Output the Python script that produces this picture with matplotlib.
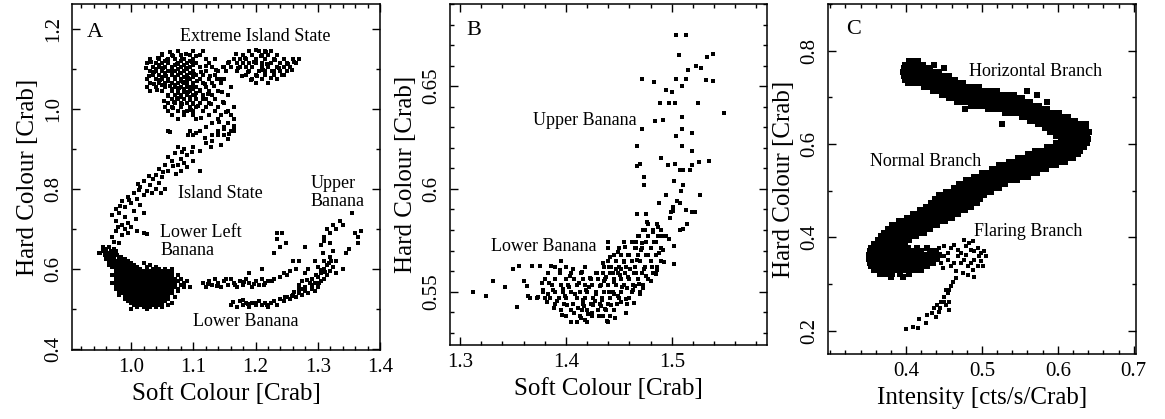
import numpy as np
import matplotlib
matplotlib.use("Agg")
import matplotlib.pyplot as plt
from matplotlib.ticker import MultipleLocator

plt.rcParams['font.family'] = ['Liberation Serif', 'DejaVu Serif']

# ---------------- Panel A : atoll source colour-colour diagram ----------------
# rows: (hard colour, [soft colours])
a_eis_left = [
    (1.145, [1.075, 1.10, 1.115]),
    (1.135, [1.05, 1.065, 1.08, 1.095, 1.11]),
    (1.125, [1.03, 1.045, 1.06, 1.07, 1.085, 1.10, 1.12, 1.135]),
    (1.12, [1.055, 1.08, 1.095]),
    (1.115, [1.025, 1.04, 1.05, 1.06, 1.075, 1.09, 1.105, 1.125]),
    (1.11, [1.045, 1.07, 1.085, 1.10]),
    (1.105, [1.035, 1.045, 1.055, 1.065, 1.08, 1.095, 1.11, 1.13, 1.15]),
    (1.10, [1.04, 1.065, 1.075, 1.09]),
    (1.095, [1.03, 1.04, 1.05, 1.06, 1.07, 1.085, 1.10, 1.12, 1.14]),
    (1.09, [1.055, 1.065, 1.08, 1.095]),
    (1.085, [1.035, 1.045, 1.055, 1.065, 1.075, 1.09, 1.105, 1.115, 1.135]),
    (1.08, [1.05, 1.07, 1.085, 1.10]),
    (1.075, [1.025, 1.04, 1.05, 1.06, 1.07, 1.08, 1.095, 1.11, 1.125, 1.15]),
    (1.07, [1.06, 1.08, 1.09]),
    (1.065, [1.03, 1.045, 1.055, 1.065, 1.075, 1.085, 1.10, 1.115, 1.13, 1.145]),
    (1.06, [1.05, 1.07, 1.09, 1.10]),
    (1.055, [1.025, 1.04, 1.055, 1.07, 1.08, 1.09, 1.105, 1.12, 1.16]),
    (1.05, [1.065, 1.085, 1.10]),
    (1.045, [1.03, 1.05, 1.065, 1.075, 1.085, 1.095, 1.11, 1.125, 1.14]),
    (1.04, [1.075, 1.09, 1.105]),
    (1.035, [1.06, 1.07, 1.08, 1.09, 1.10, 1.115, 1.13, 1.155]),
    (1.03, [1.08, 1.095]),
    (1.025, [1.065, 1.075, 1.085, 1.095, 1.105, 1.12, 1.135]),
    (1.015, [1.06, 1.07, 1.08, 1.09, 1.10, 1.11, 1.125, 1.15]),
    (1.005, [1.055, 1.065, 1.08, 1.095, 1.105, 1.12, 1.14, 1.165]),
    (0.995, [1.06, 1.075, 1.09, 1.10, 1.115, 1.135, 1.155]),
    (0.985, [1.065, 1.085, 1.10, 1.125, 1.145, 1.16]),
    (0.975, [1.075, 1.105, 1.14, 1.165]),
    (0.965, [1.13, 1.155]),
    (0.955, [1.12, 1.15, 1.165]),
    (0.945, [1.06, 1.095, 1.11, 1.14, 1.16]),
    (0.935, [1.10, 1.13, 1.15]),
]
a_eis_left_extra = [
    (1.032, 1.118), (1.037, 1.092), (1.043, 1.128), (1.047, 1.071), (1.052, 1.103),
    (1.056, 1.082), (1.058, 1.121), (1.062, 1.058), (1.066, 1.096), (1.068, 1.133),
    (1.071, 1.077), (1.073, 1.112), (1.077, 1.052), (1.079, 1.089), (1.082, 1.124),
    (1.084, 1.066), (1.087, 1.041), (1.089, 1.102), (1.092, 1.078), (1.094, 1.021),
    (1.096, 1.055), (1.098, 1.117), (1.101, 1.088), (1.103, 1.034), (1.106, 1.069),
    (1.108, 1.008), (1.111, 1.047), (1.113, 1.093), (1.116, 1.024), (1.118, 1.061),
    (1.121, 1.106), (1.124, 1.038), (1.127, 1.083), (1.129, 1.012), (1.133, 1.056),
    (1.137, 1.097), (1.041, 1.048), (1.036, 1.062), (1.049, 1.137), (1.063, 1.142),
    (1.088, 1.138), (1.105, 1.131), (1.074, 1.028), (1.081, 1.011), (1.067, 1.003),
    (1.085, 0.993), (1.097, 0.998), (1.113, 0.978), (1.148, 1.018), (1.153, 0.992),
    (1.142, 0.967), (1.158, 0.938), (1.166, 0.958), (1.146, 1.043), (1.138, 1.075),
    (1.028, 1.083), (1.024, 1.101), (1.053, 1.019), (1.059, 1.031), (1.069, 1.016),
    (1.091, 1.043), (1.099, 1.012),
]
a_eis_right = [
    (1.145, [1.19, 1.205, 1.215, 1.225]),
    (1.135, [1.18, 1.195, 1.21, 1.22, 1.235]),
    (1.125, [1.165, 1.175, 1.185, 1.20, 1.215, 1.23, 1.245, 1.26, 1.27]),
    (1.115, [1.155, 1.17, 1.18, 1.19, 1.20, 1.21, 1.225, 1.24, 1.25, 1.265]),
    (1.105, [1.148, 1.16, 1.175, 1.185, 1.195, 1.21, 1.22, 1.235, 1.245, 1.255]),
    (1.095, [1.152, 1.17, 1.19, 1.205, 1.215, 1.23, 1.24, 1.25]),
    (1.085, [1.185, 1.20, 1.215, 1.23, 1.245]),
    (1.075, [1.145, 1.195, 1.21, 1.235]),
    (1.065, [1.20, 1.22]),
]
a_eis_right_extra = [
    (1.158, 1.118), (1.172, 1.101), (1.183, 1.128), (1.188, 1.091), (1.197, 1.117),
    (1.203, 1.082), (1.208, 1.131), (1.212, 1.098), (1.219, 1.112), (1.227, 1.094),
    (1.232, 1.121), (1.238, 1.103), (1.243, 1.085), (1.252, 1.112), (1.258, 1.097),
    (1.262, 1.118), (1.178, 1.082), (1.192, 1.071), (1.224, 1.078), (1.217, 1.142),
    (1.201, 1.148), (1.168, 1.137),
]
a_island = [
    (1.15, 0.95), (1.165, 0.945), (1.14, 0.935), (1.155, 0.925), (1.13, 0.92),
    (1.12, 0.915), (1.145, 0.91), (1.10, 0.905), (1.11, 0.895), (1.085, 0.90),
    (1.075, 0.905), (1.07, 0.89), (1.09, 0.885), (1.08, 0.875), (1.10, 0.87),
    (1.065, 0.87), (1.06, 0.88), (1.055, 0.86), (1.075, 0.86), (1.09, 0.855),
    (1.045, 0.85), (1.06, 0.845), (1.08, 0.845), (1.11, 0.845), (1.04, 0.835),
    (1.05, 0.83), (1.035, 0.825), (1.02, 0.82), (1.045, 0.815), (1.03, 0.81),
    (1.015, 0.805), (1.04, 0.80), (1.055, 0.80), (1.025, 0.795), (1.005, 0.79),
    (1.02, 0.785), (0.995, 0.78), (1.01, 0.775), (0.985, 0.77), (1.00, 0.765),
    (1.015, 0.76), (0.99, 0.755), (0.975, 0.75), (1.005, 0.745), (0.98, 0.74),
    (1.02, 0.74), (0.99, 0.73), (0.975, 0.72), (0.985, 0.71), (1.00, 0.705),
    (0.99, 0.70), (0.975, 0.695), (1.01, 0.695), (0.995, 0.69), (1.02, 0.69),
    (0.985, 0.685), (0.97, 0.68), (0.98, 0.665), (0.965, 0.655),
    (1.062, 0.942), (1.092, 0.935), (1.105, 0.94), (1.118, 0.928), (1.128, 0.905),
    (1.098, 0.893), (1.082, 0.892), (1.067, 0.856), (1.085, 0.865), (1.072, 0.838),
    (1.052, 0.842), (1.028, 0.833), (1.011, 0.813), (1.048, 0.79), (1.033, 0.79),
    (1.012, 0.797), (0.997, 0.772), (0.982, 0.758), (1.008, 0.725), (0.995, 0.715),
    (0.979, 0.705), (0.969, 0.735), (1.025, 0.687), (0.972, 0.668), (0.957, 0.645),
    (0.948, 0.64),
]
a_lower_left = [
    (0.655, [0.955, 0.965]),
    (0.650, [0.96, 0.972]),
    (0.645, [0.955, 0.967, 0.975]),
    (0.640, [0.95, 0.962, 0.972]),
    (0.635, [0.958, 0.968, 0.978]),
    (0.630, [0.963, 0.973, 0.983]),
    (0.625, [0.96, 0.97, 0.98, 0.99]),
    (0.620, [0.965, 0.975, 0.985, 0.995]),
    (0.615, [0.97, 0.98, 0.99, 1.00, 1.02]),
    (0.610, [0.965, 0.975, 0.985, 0.995, 1.005, 1.03]),
    (0.605, [0.97, 0.98, 0.99, 1.00, 1.01, 1.025, 1.04]),
    (0.600, [0.975, 0.985, 0.995, 1.005, 1.015, 1.025, 1.035, 1.045, 1.055, 1.065]),
    (0.595, [0.98, 0.99, 1.00, 1.01, 1.02, 1.03, 1.04, 1.05, 1.06]),
    (0.590, [0.975, 0.985, 0.995, 1.005, 1.015, 1.025, 1.035, 1.045, 1.055, 1.065]),
    (0.585, [0.97, 0.98, 0.99, 1.00, 1.01, 1.02, 1.03, 1.04, 1.05, 1.06, 1.075]),
    (0.580, [0.975, 0.985, 0.995, 1.005, 1.015, 1.025, 1.035, 1.045, 1.055, 1.065]),
    (0.575, [0.98, 0.99, 1.00, 1.01, 1.02, 1.03, 1.04, 1.05, 1.06, 1.07, 1.08]),
    (0.570, [0.975, 0.985, 0.995, 1.005, 1.015, 1.025, 1.035, 1.045, 1.055, 1.065, 1.075, 1.09]),
    (0.565, [0.97, 0.98, 0.99, 1.00, 1.01, 1.02, 1.03, 1.04, 1.05, 1.06, 1.07, 1.085]),
    (0.560, [0.975, 0.985, 0.995, 1.005, 1.015, 1.025, 1.035, 1.045, 1.055, 1.065, 1.08]),
    (0.555, [0.98, 0.99, 1.00, 1.01, 1.02, 1.03, 1.04, 1.05, 1.06, 1.07, 1.085, 1.095]),
    (0.550, [0.975, 0.985, 0.995, 1.005, 1.015, 1.025, 1.035, 1.045, 1.055, 1.065, 1.075]),
    (0.545, [0.98, 0.99, 1.00, 1.01, 1.02, 1.03, 1.04, 1.05, 1.06, 1.075]),
    (0.540, [0.985, 0.995, 1.005, 1.015, 1.025, 1.035, 1.045, 1.055, 1.065]),
    (0.535, [0.98, 0.99, 1.00, 1.01, 1.02, 1.03, 1.04, 1.05, 1.06]),
    (0.530, [0.995, 1.005, 1.015, 1.025, 1.035, 1.045, 1.055, 1.07]),
    (0.525, [0.99, 1.00, 1.01, 1.02, 1.03, 1.04, 1.05, 1.06]),
    (0.520, [0.995, 1.005, 1.015, 1.025, 1.035, 1.045, 1.055]),
    (0.515, [1.00, 1.01, 1.02, 1.03, 1.04, 1.05, 1.065]),
    (0.510, [1.005, 1.015, 1.025, 1.035, 1.045, 1.06]),
    (0.505, [1.01, 1.02, 1.03, 1.04, 1.05]),
    (0.500, [1.00, 1.025]),
]
a_lower_banana = [
    (1.115, 0.565), (1.12, 0.555), (1.125, 0.57), (1.13, 0.56), (1.135, 0.575),
    (1.14, 0.565), (1.145, 0.555), (1.15, 0.57), (1.155, 0.56), (1.16, 0.575),
    (1.165, 0.565), (1.17, 0.555), (1.175, 0.57), (1.18, 0.56), (1.185, 0.575),
    (1.19, 0.565), (1.195, 0.555), (1.20, 0.57), (1.205, 0.56), (1.21, 0.575),
    (1.215, 0.565), (1.22, 0.57), (1.23, 0.575), (1.24, 0.58), (1.245, 0.59),
    (1.25, 0.585), (1.19, 0.59), (1.21, 0.60), (1.23, 0.64), (1.24, 0.655),
    (1.235, 0.675), (1.235, 0.69), (1.242, 0.69), (1.249, 0.665), (1.26, 0.62),
    (1.27, 0.62), (1.28, 0.655), (1.255, 0.595), (1.265, 0.60),
    (1.16, 0.51), (1.17, 0.505), (1.175, 0.52), (1.18, 0.51), (1.185, 0.515),
    (1.19, 0.505), (1.195, 0.515), (1.20, 0.51), (1.205, 0.52), (1.21, 0.51),
    (1.215, 0.515), (1.22, 0.505), (1.225, 0.515), (1.23, 0.52), (1.235, 0.51),
    (1.24, 0.525), (1.245, 0.52), (1.25, 0.53), (1.255, 0.525), (1.26, 0.535),
    (1.265, 0.53), (1.27, 0.54), (1.275, 0.535), (1.28, 0.545), (1.285, 0.54),
    (1.29, 0.55), (1.295, 0.545), (1.28, 0.555), (1.29, 0.56), (1.30, 0.555),
    (1.295, 0.565), (1.305, 0.57), (1.30, 0.58), (1.31, 0.575), (1.29, 0.575),
    (1.305, 0.59), (1.315, 0.585), (1.31, 0.60), (1.32, 0.595), (1.30, 0.605),
    (1.315, 0.61), (1.325, 0.605), (1.31, 0.62), (1.32, 0.63), (1.33, 0.62),
    (1.325, 0.645), (1.28, 0.59), (1.275, 0.57), (1.285, 0.60), (1.27, 0.56),
    (1.295, 0.62), (1.34, 0.60), (1.33, 0.59),
    (1.124, 0.562), (1.138, 0.557), (1.152, 0.573), (1.167, 0.558), (1.182, 0.567),
    (1.198, 0.562), (1.213, 0.558), (1.226, 0.568), (1.20, 0.513), (1.188, 0.512),
    (1.218, 0.509), (1.247, 0.528), (1.262, 0.541), (1.276, 0.548), (1.288, 0.565),
    (1.302, 0.563), (1.312, 0.592), (1.318, 0.615), (1.305, 0.597), (1.297, 0.585),
    (1.283, 0.572), (1.308, 0.64), (1.322, 0.62), (1.27, 0.55), (1.258, 0.532),
    (1.164, 0.516), (1.18, 0.522),
]
a_upper_banana = [
    (1.31, 0.68), (1.315, 0.70), (1.32, 0.69), (1.325, 0.71), (1.33, 0.70),
    (1.335, 0.72), (1.32, 0.665), (1.305, 0.66), (1.31, 0.67), (1.355, 0.74),
    (1.36, 0.69), (1.365, 0.68), (1.37, 0.695), (1.365, 0.665), (1.35, 0.65),
    (1.345, 0.64), (1.34, 0.71),
]

# ---------------- Panel B : banana branch ----------------
b_upper = [
    (1.504, 0.675), (1.513, 0.675), (1.507, 0.665), (1.533, 0.664), (1.539, 0.6656),
    (1.515, 0.658), (1.523, 0.660), (1.528, 0.6586), (1.472, 0.6537), (1.483, 0.652),
    (1.504, 0.6537), (1.513, 0.6534), (1.510, 0.650), (1.532, 0.653), (1.539, 0.6524),
    (1.495, 0.648), (1.500, 0.647), (1.489, 0.642), (1.497, 0.642), (1.503, 0.642),
    (1.525, 0.642), (1.549, 0.637), (1.484, 0.633), (1.492, 0.6335), (1.510, 0.635),
    (1.472, 0.629), (1.510, 0.629), (1.504, 0.6257), (1.519, 0.627), (1.467, 0.621),
    (1.510, 0.621), (1.519, 0.6186), (1.526, 0.6129), (1.535, 0.6135), (1.490, 0.6148),
    (1.467, 0.611), (1.470, 0.612), (1.496, 0.6116), (1.503, 0.612), (1.508, 0.609),
    (1.511, 0.609), (1.517, 0.609), (1.519, 0.6114), (1.474, 0.606), (1.474, 0.602),
    (1.502, 0.604), (1.511, 0.602), (1.509, 0.599), (1.495, 0.597), (1.527, 0.597),
    (1.488, 0.593), (1.505, 0.5942), (1.508, 0.593), (1.501, 0.5913), (1.501, 0.589),
    (1.499, 0.5886), (1.498, 0.586), (1.513, 0.5897), (1.519, 0.5886), (1.522, 0.5886),
    (1.467, 0.5878), (1.476, 0.5878), (1.502, 0.572), (1.508, 0.580), (1.514, 0.5828),
    (1.511, 0.5805), (1.502, 0.5635),
]
b_left = [
    (1.3126, 0.55), (1.3245, 0.548), (1.3315, 0.5552), (1.3425, 0.5521),
    (1.3497, 0.5608), (1.356, 0.5625), (1.3535, 0.5424), (1.3608, 0.5553),
    (1.363, 0.5528), (1.3638, 0.548), (1.3657, 0.5471), (1.3677, 0.5626),
    (1.3756, 0.5626), (1.374, 0.5476), (1.3787, 0.551), (1.3803, 0.556),
    (1.382, 0.5451), (1.3835, 0.549), (1.3844, 0.554), (1.44, 0.574),
]
b_lower = [
    (0.535, [1.405, 1.41, 1.42, 1.44]),
    (0.538, [1.40, 1.413, 1.425, 1.435, 1.442]),
    (0.541, [1.395, 1.405, 1.415, 1.42, 1.43, 1.438, 1.445]),
    (0.544, [1.39, 1.398, 1.407, 1.416, 1.424, 1.432, 1.44, 1.448, 1.458]),
    (0.547, [1.373, 1.385, 1.393, 1.40, 1.41, 1.418, 1.426, 1.434, 1.442, 1.45, 1.46]),
    (0.550, [1.378, 1.39, 1.397, 1.405, 1.413, 1.42, 1.428, 1.436, 1.444, 1.452, 1.462, 1.47]),
    (0.553, [1.387, 1.395, 1.402, 1.41, 1.418, 1.425, 1.433, 1.44, 1.447, 1.455, 1.463, 1.473]),
    (0.556, [1.39, 1.40, 1.408, 1.416, 1.424, 1.43, 1.437, 1.445, 1.452, 1.46, 1.468, 1.478]),
    (0.559, [1.394, 1.405, 1.414, 1.428, 1.435, 1.442, 1.449, 1.456, 1.464, 1.472, 1.482]),
    (0.562, [1.39, 1.40, 1.418, 1.436, 1.443, 1.45, 1.457, 1.465, 1.475, 1.486]),
    (0.565, [1.395, 1.44, 1.447, 1.455, 1.462, 1.47, 1.48, 1.49]),
    (0.568, [1.445, 1.452, 1.46, 1.468, 1.476, 1.485]),
    (0.571, [1.44, 1.45, 1.465, 1.472, 1.48, 1.49]),
    (0.574, [1.455, 1.466, 1.476, 1.485]),
    (0.577, [1.468, 1.478, 1.487, 1.495]),
    (0.580, [1.473, 1.482, 1.49]),
    (0.583, [1.478, 1.486]),
]
b_lower_extra = [
    (1.392, 0.5455), (1.397, 0.5512), (1.401, 0.5437), (1.404, 0.5578), (1.408, 0.5396),
    (1.409, 0.5489), (1.412, 0.5541), (1.414, 0.5372), (1.416, 0.5458), (1.419, 0.5507),
    (1.421, 0.5393), (1.423, 0.5566), (1.426, 0.5434), (1.428, 0.5489), (1.431, 0.5382),
    (1.432, 0.5527), (1.434, 0.5461), (1.437, 0.5415), (1.438, 0.5573), (1.441, 0.5498),
    (1.443, 0.5437), (1.445, 0.5546), (1.447, 0.5612), (1.449, 0.5478), (1.451, 0.5583),
    (1.453, 0.5521), (1.455, 0.5644), (1.457, 0.5462), (1.459, 0.5569), (1.461, 0.5612),
    (1.463, 0.5508), (1.466, 0.5591), (1.467, 0.5655), (1.469, 0.5539), (1.471, 0.5703),
    (1.474, 0.5612), (1.476, 0.5578), (1.478, 0.5676), (1.481, 0.5621), (1.483, 0.5739),
    (1.485, 0.5584), (1.488, 0.5688), (1.491, 0.5773), (1.493, 0.5642), (1.470, 0.5488),
    (1.464, 0.5443), (1.457, 0.5398), (1.446, 0.5372), (1.439, 0.5356), (1.418, 0.5362),
    (1.411, 0.5418), (1.399, 0.5479), (1.388, 0.5506), (1.383, 0.5589), (1.394, 0.5604),
    (1.386, 0.5627), (1.407, 0.5612), (1.415, 0.5597), (1.422, 0.5523), (1.429, 0.5592),
    (1.435, 0.5638), (1.442, 0.5667), (1.449, 0.5695), (1.456, 0.5718), (1.462, 0.5742),
    (1.469, 0.5769), (1.475, 0.5802), (1.482, 0.5788), (1.487, 0.5815), (1.477, 0.5838),
    (1.472, 0.5735), (1.452, 0.5608), (1.444, 0.5589), (1.436, 0.5551), (1.427, 0.5456),
    (1.433, 0.5429), (1.425, 0.5398), (1.417, 0.5429), (1.403, 0.5523), (1.396, 0.5387),
    (1.380, 0.5468), (1.377, 0.5542), (1.389, 0.5419), (1.445, 0.5486), (1.452, 0.5449),
    (1.458, 0.5519), (1.465, 0.5525), (1.473, 0.5517), (1.480, 0.5553), (1.486, 0.5607),
    (1.492, 0.5702), (1.497, 0.5756), (1.459, 0.5676), (1.466, 0.5714), (1.441, 0.5618),
    (1.447, 0.5649),
]

# ---------------- Panel C : Z source ----------------
c_horizontal = [
    (0.778, [0.404, 0.410, 0.416]),
    (0.770, [0.399, 0.405, 0.411, 0.417, 0.422, 0.437]),
    (0.762, [0.397, 0.403, 0.409, 0.415, 0.421, 0.427, 0.432, 0.450]),
    (0.754, [0.396, 0.402, 0.408, 0.414, 0.420, 0.426, 0.432, 0.438, 0.443]),
    (0.746, [0.397, 0.403, 0.409, 0.415, 0.421, 0.427, 0.433, 0.439, 0.445, 0.451, 0.456]),
    (0.738, [0.399, 0.405, 0.411, 0.417, 0.423, 0.429, 0.435, 0.441, 0.447, 0.453, 0.459, 0.465]),
    (0.730, [0.403, 0.409, 0.415, 0.421, 0.427, 0.433, 0.439, 0.445, 0.451, 0.457, 0.463, 0.469, 0.475]),
    (0.722, [0.424, 0.430, 0.436, 0.442, 0.448, 0.454, 0.460, 0.466, 0.472, 0.478, 0.484, 0.490, 0.496]),
    (0.714, [0.436, 0.442, 0.448, 0.454, 0.460, 0.466, 0.472, 0.478, 0.484, 0.490, 0.496, 0.502,
             0.508, 0.514, 0.520, 0.560]),
    (0.706, [0.447, 0.453, 0.459, 0.465, 0.471, 0.477, 0.483, 0.489, 0.495, 0.501, 0.507, 0.513,
             0.519, 0.525, 0.531, 0.537, 0.542, 0.573]),
    (0.698, [0.456, 0.462, 0.468, 0.474, 0.480, 0.486, 0.492, 0.498, 0.504, 0.510, 0.516, 0.522,
             0.528, 0.534, 0.540, 0.546, 0.553]),
    (0.690, [0.467, 0.473, 0.479, 0.485, 0.491, 0.497, 0.503, 0.509, 0.515, 0.521, 0.527, 0.533,
             0.539, 0.545, 0.551, 0.557, 0.563, 0.586]),
    (0.682, [0.485, 0.491, 0.497, 0.503, 0.509, 0.515, 0.521, 0.527, 0.533, 0.539, 0.545, 0.551,
             0.557, 0.563, 0.569, 0.575]),
    (0.674, [0.477, 0.508, 0.514, 0.520, 0.526, 0.532, 0.538, 0.544, 0.550, 0.556, 0.562, 0.568,
             0.574, 0.580, 0.586]),
    (0.666, [0.530, 0.536, 0.542, 0.548, 0.554, 0.560, 0.566, 0.572, 0.578, 0.584, 0.590, 0.596, 0.601]),
    (0.658, [0.553, 0.559, 0.565, 0.571, 0.577, 0.583, 0.589, 0.595, 0.601, 0.607, 0.613]),
    (0.650, [0.563, 0.569, 0.575, 0.581, 0.587, 0.593, 0.599, 0.605, 0.611, 0.617, 0.623]),
    (0.642, [0.527, 0.574, 0.580, 0.586, 0.592, 0.598, 0.604, 0.610, 0.616, 0.622, 0.628, 0.634, 0.637]),
    (0.634, [0.584, 0.583, 0.589, 0.595, 0.601, 0.607, 0.613, 0.619, 0.625, 0.631, 0.637]),
    (0.626, [0.590, 0.596, 0.602, 0.608, 0.614, 0.620, 0.626, 0.632, 0.638, 0.641]),
    (0.618, [0.597, 0.603, 0.609, 0.615, 0.621, 0.627, 0.633, 0.639]),
]
c_normal = [
    (0.610, [0.604, 0.610, 0.616, 0.622, 0.628, 0.634, 0.640]),
    (0.602, [0.598, 0.604, 0.610, 0.616, 0.622, 0.628, 0.634, 0.639]),
    (0.594, [0.586, 0.592, 0.598, 0.604, 0.610, 0.616, 0.622, 0.628, 0.634]),
    (0.586, [0.570, 0.574, 0.580, 0.586, 0.592, 0.598, 0.604, 0.610, 0.616, 0.622, 0.629]),
    (0.578, [0.561, 0.567, 0.573, 0.579, 0.585, 0.591, 0.597, 0.603, 0.609, 0.615, 0.621, 0.626]),
    (0.570, [0.548, 0.554, 0.560, 0.566, 0.572, 0.578, 0.584, 0.590, 0.596, 0.602, 0.608, 0.614, 0.620]),
    (0.562, [0.536, 0.542, 0.548, 0.554, 0.560, 0.566, 0.572, 0.578, 0.584, 0.590, 0.596, 0.602, 0.609]),
    (0.554, [0.523, 0.531, 0.525, 0.537, 0.543, 0.549, 0.555, 0.561, 0.567, 0.573, 0.579, 0.585,
             0.591, 0.597]),
    (0.546, [0.513, 0.519, 0.525, 0.531, 0.537, 0.543, 0.549, 0.555, 0.561, 0.567, 0.573, 0.579, 0.585]),
    (0.538, [0.500, 0.506, 0.512, 0.518, 0.524, 0.530, 0.536, 0.542, 0.548, 0.554, 0.560, 0.566, 0.573]),
    (0.530, [0.489, 0.495, 0.501, 0.507, 0.513, 0.519, 0.525, 0.531, 0.537, 0.543, 0.549, 0.555, 0.561]),
    (0.522, [0.479, 0.485, 0.491, 0.497, 0.503, 0.509, 0.515, 0.521, 0.527, 0.533, 0.539, 0.546]),
    (0.514, [0.470, 0.476, 0.482, 0.488, 0.494, 0.500, 0.506, 0.512, 0.518, 0.524, 0.531]),
    (0.506, [0.463, 0.469, 0.475, 0.481, 0.487, 0.493, 0.499, 0.505, 0.511, 0.517, 0.522]),
    (0.498, [0.452, 0.458, 0.464, 0.470, 0.476, 0.482, 0.488, 0.494, 0.500, 0.506, 0.512]),
    (0.490, [0.444, 0.450, 0.456, 0.462, 0.468, 0.474, 0.480, 0.486, 0.492, 0.498, 0.503]),
    (0.482, [0.438, 0.444, 0.450, 0.456, 0.462, 0.468, 0.474, 0.480, 0.486, 0.492, 0.498]),
    (0.474, [0.433, 0.439, 0.445, 0.451, 0.457, 0.463, 0.469, 0.475, 0.481, 0.487, 0.493]),
    (0.466, [0.426, 0.432, 0.438, 0.444, 0.450, 0.456, 0.462, 0.468, 0.474, 0.480, 0.486]),
    (0.458, [0.418, 0.424, 0.430, 0.436, 0.442, 0.448, 0.454, 0.460, 0.466, 0.472, 0.478]),
    (0.450, [0.409, 0.415, 0.421, 0.427, 0.433, 0.439, 0.445, 0.451, 0.457, 0.463, 0.469]),
    (0.442, [0.401, 0.407, 0.413, 0.419, 0.425, 0.431, 0.437, 0.443, 0.449, 0.455, 0.460]),
    (0.434, [0.391, 0.397, 0.403, 0.409, 0.415, 0.421, 0.427, 0.433, 0.439, 0.445, 0.451]),
    (0.426, [0.381, 0.387, 0.393, 0.399, 0.405, 0.411, 0.417, 0.423, 0.429, 0.435, 0.441]),
    (0.418, [0.376, 0.382, 0.388, 0.394, 0.400, 0.406, 0.412, 0.418, 0.424, 0.431]),
    (0.410, [0.371, 0.377, 0.383, 0.389, 0.395, 0.401, 0.407, 0.413, 0.419, 0.423]),
    (0.402, [0.367, 0.373, 0.379, 0.385, 0.391, 0.397, 0.403, 0.409, 0.413]),
    (0.394, [0.363, 0.369, 0.375, 0.381, 0.387, 0.393, 0.399, 0.404]),
    (0.386, [0.358, 0.364, 0.370, 0.376, 0.382, 0.388, 0.394, 0.398]),
]
c_base = [
    (0.378, [0.354, 0.360, 0.366, 0.372, 0.378, 0.384, 0.390, 0.396, 0.402, 0.415, 0.428]),
    (0.370, [0.352, 0.358, 0.364, 0.370, 0.376, 0.382, 0.388, 0.394, 0.400, 0.406, 0.412, 0.420,
             0.432, 0.440]),
    (0.362, [0.351, 0.357, 0.363, 0.369, 0.375, 0.381, 0.387, 0.393, 0.399, 0.405, 0.411, 0.417,
             0.423, 0.429, 0.436, 0.444]),
    (0.354, [0.351, 0.357, 0.363, 0.369, 0.375, 0.381, 0.387, 0.393, 0.399, 0.405, 0.411, 0.417,
             0.423, 0.429, 0.435, 0.441]),
    (0.346, [0.352, 0.358, 0.364, 0.370, 0.376, 0.382, 0.388, 0.394, 0.400, 0.406, 0.412, 0.418,
             0.424, 0.430, 0.436]),
    (0.338, [0.354, 0.360, 0.366, 0.372, 0.378, 0.384, 0.390, 0.396, 0.402, 0.408, 0.414, 0.420, 0.428]),
    (0.330, [0.358, 0.364, 0.370, 0.376, 0.382, 0.388, 0.394, 0.400, 0.406, 0.412, 0.420]),
    (0.322, [0.366, 0.374, 0.382, 0.392, 0.404]),
    (0.315, [0.380, 0.396]),
]
c_flaring = [
    (0.4439, 0.3771), (0.4505, 0.3806), (0.4549, 0.3663), (0.4593, 0.3771), (0.4637, 0.3842),
    (0.4681, 0.3735), (0.4725, 0.3663), (0.4769, 0.3950), (0.4791, 0.3806), (0.4834, 0.3878),
    (0.4878, 0.3914), (0.4856, 0.3735), (0.4900, 0.3699), (0.4944, 0.3771), (0.4988, 0.3663),
    (0.5032, 0.3699), (0.5054, 0.3591), (0.4988, 0.3484), (0.4944, 0.3376), (0.4900, 0.3520),
    (0.4856, 0.3448), (0.4813, 0.3376), (0.4769, 0.3520), (0.4725, 0.3448), (0.4681, 0.3591),
    (0.4637, 0.3448), (0.4593, 0.3376), (0.4549, 0.3520), (0.4505, 0.3591), (0.4461, 0.3448),
    (0.4417, 0.3591), (0.4483, 0.3340), (0.4659, 0.3269), (0.4747, 0.3233), (0.4813, 0.3197),
    (0.4878, 0.3305), (0.5010, 0.3376), (0.4900, 0.3161), (0.4373, 0.3663), (0.4329, 0.3556),
    (0.4966, 0.3591), (0.4791, 0.3627),
    (0.4000, 0.2036), (0.4088, 0.2072), (0.4162, 0.2065), (0.4176, 0.2244), (0.4264, 0.2172),
    (0.4277, 0.2337), (0.4338, 0.2373), (0.4373, 0.2480), (0.4404, 0.2552), (0.4439, 0.2409),
    (0.4461, 0.2624), (0.4452, 0.2480), (0.4505, 0.2731), (0.4527, 0.2552), (0.4549, 0.2803),
    (0.4571, 0.2875), (0.4593, 0.2961), (0.4527, 0.2875), (0.4615, 0.3054), (0.4659, 0.3125),
    (0.4571, 0.2624), (0.4571, 0.2444), (0.4496, 0.2624), (0.4395, 0.2301),
]


def rows_xy(rows):
    xs, ys = [], []
    for y, row in rows:
        xs += row
        ys += [y] * len(row)
    return xs, ys


def pairs_xy(pairs):
    return [p[0] for p in pairs], [p[1] for p in pairs]


def style_axes(ax):
    ax.tick_params(which='both', direction='in', top=True, right=True, labelsize=15, pad=6)
    ax.tick_params(which='major', length=6, width=1)
    ax.tick_params(which='minor', length=3, width=1)
    for lab in ax.get_yticklabels():
        lab.set_rotation(90)
        lab.set_va('center')
    for s in ax.spines.values():
        s.set_linewidth(1.1)


fig = plt.figure(figsize=(11.65, 4.19), dpi=100)
axA = fig.add_axes([0.0618, 0.165, 0.2644, 0.8255])
axB = fig.add_axes([0.3863, 0.1766, 0.2721, 0.8139])
axC = fig.add_axes([0.7107, 0.155, 0.2644, 0.8355])

ms_a = 6.0
ms_c = 17.0
for rows in (a_eis_left, a_eis_right, a_lower_left):
    x, y = rows_xy(rows)
    axA.scatter(x, y, s=ms_a, marker='s', c='black', linewidths=0)
for pairs in (a_eis_left_extra, a_eis_right_extra, a_island, a_lower_banana, a_upper_banana):
    x, y = pairs_xy(pairs)
    axA.scatter(x, y, s=ms_a, marker='s', c='black', linewidths=0)

x, y = rows_xy(b_lower)
axB.scatter(x, y, s=ms_a, marker='s', c='black', linewidths=0)
for pairs in (b_lower_extra, b_upper, b_left):
    x, y = pairs_xy(pairs)
    axB.scatter(x, y, s=ms_a, marker='s', c='black', linewidths=0)

for rows in (c_horizontal, c_normal, c_base):
    x, y = rows_xy(rows)
    axC.scatter(x, y, s=ms_c, marker='s', c='black', linewidths=0)
x, y = pairs_xy(c_flaring)
axC.scatter(x, y, s=ms_a, marker='s', c='black', linewidths=0)

# Panel A axes
axA.set_xlim(0.905, 1.4)
axA.set_ylim(0.397, 1.262)
axA.set_xticks([1.0, 1.1, 1.2, 1.3, 1.4])
axA.set_xticklabels(['1.0', '1.1', '1.2', '1.3', '1.4'])
axA.set_yticks([0.4, 0.6, 0.8, 1.0, 1.2])
axA.set_yticklabels(['0.4', '0.6', '0.8', '1.0', '1.2'])
axA.xaxis.set_minor_locator(MultipleLocator(0.02))
axA.yaxis.set_minor_locator(MultipleLocator(0.1))
axA.set_xlabel('Soft Colour [Crab]', fontsize=18)
axA.set_ylabel('Hard Colour [Crab]', fontsize=18)
axA.text(0.929, 1.19, 'A', fontsize=16, va='center')
axA.text(1.078, 1.181, 'Extreme Island State', fontsize=13, va='center')
axA.text(1.076, 0.787, 'Island State', fontsize=13, va='center')
axA.text(1.289, 0.79, 'Upper\nBanana', fontsize=13, va='center', linespacing=1.1)
axA.text(1.047, 0.668, 'Lower Left\nBanana', fontsize=13, va='center', linespacing=1.1)
axA.text(1.10, 0.468, 'Lower Banana', fontsize=13, va='center')

# Panel B axes
axB.set_xlim(1.2905, 1.59)
axB.set_ylim(0.524, 0.69)
axB.set_xticks([1.3, 1.4, 1.5])
axB.set_xticklabels(['1.3', '1.4', '1.5'])
axB.set_yticks([0.55, 0.6, 0.65])
axB.set_yticklabels(['0.55', '0.6', '0.65'])
axB.xaxis.set_minor_locator(MultipleLocator(0.02))
axB.yaxis.set_minor_locator(MultipleLocator(0.01))
axB.set_xlabel('Soft Colour [Crab]', fontsize=18)
axB.set_ylabel('Hard Colour [Crab]', fontsize=18)
axB.text(1.306, 0.677, 'B', fontsize=16, va='center')
axB.text(1.369, 0.6331, 'Upper Banana', fontsize=13, va='center')
axB.text(1.329, 0.5719, 'Lower Banana', fontsize=13, va='center')

# Panel C axes
axC.set_xlim(0.297, 0.703)
axC.set_ylim(0.15, 0.9)
axC.set_xticks([0.4, 0.5, 0.6, 0.7])
axC.set_xticklabels(['0.4', '0.5', '0.6', '0.7'])
axC.set_yticks([0.2, 0.4, 0.6, 0.8])
axC.set_yticklabels(['0.2', '0.4', '0.6', '0.8'])
axC.xaxis.set_minor_locator(MultipleLocator(0.02))
axC.yaxis.set_minor_locator(MultipleLocator(0.1))
axC.set_xlabel('Intensity [cts/s/Crab]', fontsize=18)
axC.set_ylabel('Hard Colour [Crab]', fontsize=18)
axC.text(0.321, 0.845, 'C', fontsize=16, va='center')
axC.text(0.4834, 0.7556, 'Horizontal Branch', fontsize=13, va='center')
axC.text(0.353, 0.562, 'Normal Branch', fontsize=13, va='center')
axC.text(0.49, 0.413, 'Flaring Branch', fontsize=13, va='center')

for ax in (axA, axB, axC):
    style_axes(ax)

fig.savefig('out.png', dpi=100)
